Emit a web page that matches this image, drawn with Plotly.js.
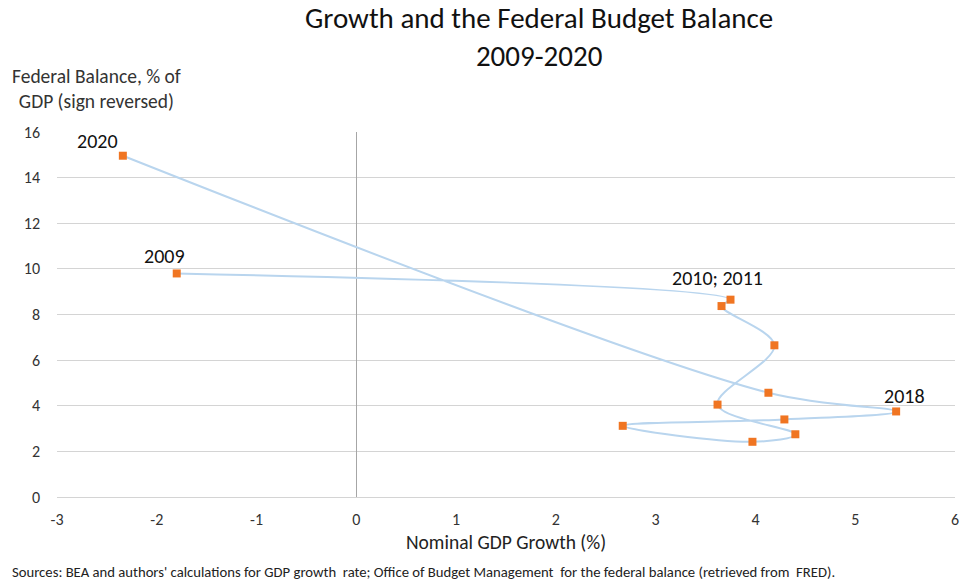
<!DOCTYPE html>
<html>
<head>
<meta charset="utf-8">
<script src="https://cdn.plot.ly/plotly-3.0.1.min.js"></script>
<style>html,body{margin:0;padding:0;background:#fff;}#chart{width:960px;height:582px;}</style>
</head>
<body>
<div id="chart"></div>
<script>
const years = [2009, 2010, 2011, 2012, 2013, 2014, 2015, 2016, 2017, 2018, 2019, 2020];
const gdpGrowth = [-1.80, 3.75, 3.66, 4.19, 3.62, 4.40, 3.97, 2.67, 4.29, 5.41, 4.13, -2.34];
const deficit = [9.8, 8.65, 8.37, 6.65, 4.05, 2.75, 2.42, 3.12, 3.4, 3.75, 4.57, 14.96];
const labelText = ['2009', '2010; 2011', '2018', '2020'];
const labelIndex = [0, 1, 9, 11];
const labelShift = [[-12, 17], [-13, 22], [8, 15], [-25, 15]];
const xTicks = [-3, -2, -1, 0, 1, 2, 3, 4, 5, 6];
const yTicks = [0, 2, 4, 6, 8, 10, 12, 14, 16];
const titleText = 'Growth and the Federal Budget Balance<br>2009-2020';
const yTitle = 'Federal Balance, % of<br>GDP (sign reversed)';
const xTitle = 'Nominal GDP Growth (%)';
const sourceNote = "Sources: BEA and authors' calculations for GDP growth  rate; Office of Budget Management  for the federal balance (retrieved from  FRED).";

const font = 'Carlito, Calibri, Lato, "Open Sans", sans-serif';

const trace = {
  x: gdpGrowth, y: deficit, text: years.map(String),
  mode: 'lines+markers', type: 'scatter',
  line: {shape: 'spline', smoothing: 1, color: '#b9d5ee', width: 2},
  marker: {symbol: 'square', size: 8, color: '#f07522'},
  hoverinfo: 'text+x+y'
};

const annotations = labelIndex.map((idx, k) => ({
  x: gdpGrowth[idx], y: deficit[idx], xref: 'x', yref: 'y',
  text: labelText[k], showarrow: false,
  xshift: labelShift[k][0], yshift: labelShift[k][1],
  font: {family: font, size: 20, color: '#111'}
}));
annotations.push({
  xref: 'paper', yref: 'paper', x: 0.537, y: 1.26, xanchor: 'center', yanchor: 'middle',
  text: titleText, showarrow: false, font: {family: font, size: 29, color: '#111'}
});
annotations.push({
  xref: 'paper', yref: 'paper', x: -0.052, y: 1.119, xanchor: 'left', yanchor: 'middle',
  text: yTitle, showarrow: false, align: 'center',
  font: {family: font, size: 19.5, color: '#333'}
});
annotations.push({
  xref: 'paper', yref: 'paper', x: 0.5, y: -0.123, xanchor: 'center', yanchor: 'middle',
  text: xTitle, showarrow: false,
  font: {family: font, size: 19.5, color: '#222'}
});
annotations.push({
  xref: 'paper', yref: 'paper', x: -0.052, y: -0.205, xanchor: 'left', yanchor: 'middle',
  text: sourceNote, showarrow: false, align: 'left',
  font: {family: font, size: 14.7, color: '#222'}
});

const layout = {
  width: 960, height: 582,
  margin: {l: 57, r: 5, t: 132, b: 85},
  paper_bgcolor: '#fff', plot_bgcolor: '#fff',
  showlegend: false,
  xaxis: {
    range: [-3, 6], tickvals: xTicks, ticktext: xTicks.map(String),
    showgrid: false, zeroline: true, zerolinecolor: '#a6a6a6', zerolinewidth: 1,
    showline: false, ticks: '', ticklabelstandoff: 11,
    tickfont: {family: font, size: 16, color: '#333'}
  },
  yaxis: {
    range: [0, 16], tickvals: yTicks, ticktext: yTicks.map(String),
    showgrid: true, gridcolor: '#d4d4d4', gridwidth: 1,
    zeroline: true, zerolinecolor: '#d4d4d4', showline: false, ticks: '',
    tickfont: {family: font, size: 16, color: '#333'}, ticklabelstandoff: 16
  },
  annotations: annotations
};

Plotly.newPlot('chart', [trace], layout, {displayModeBar: false, staticPlot: true});
</script>
</body>
</html>
